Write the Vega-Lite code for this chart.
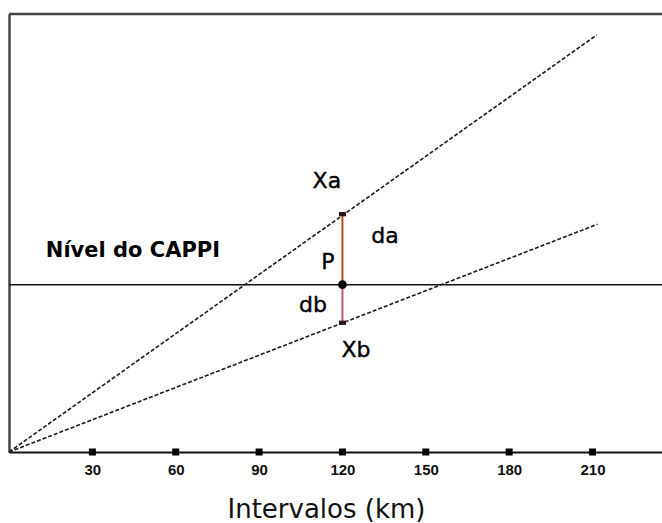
{
  "$schema": "https://vega.github.io/schema/vega-lite/v6.json",
  "width": 653,
  "height": 438,
  "autosize": {"type": "none"},
  "padding": {"left": 9, "top": 14, "right": 0, "bottom": 71},
  "background": "white",
  "config": {"view": {"stroke": null}},
  "datasets": {
    "lines": [
      {"series": "upper", "x": 0, "y": 0},
      {"series": "upper", "x": 211.5, "y": 9.52},
      {"series": "lower", "x": 0, "y": 0},
      {"series": "lower", "x": 211.8, "y": 5.2}
    ],
    "segs": [
      {"part": "da", "x": 120, "y": 5.43, "y2": 3.82},
      {"part": "db", "x": 120, "y": 3.82, "y2": 2.95}
    ],
    "ends": [
      {"name": "Xa", "x": 120, "y": 5.43},
      {"name": "Xb", "x": 120, "y": 2.95}
    ],
    "ticks": [
      {"x": 30, "y": 0}, {"x": 60, "y": 0}, {"x": 90, "y": 0}, {"x": 120, "y": 0},
      {"x": 150, "y": 0}, {"x": 180, "y": 0}, {"x": 210, "y": 0}
    ],
    "labels": [
      {"text": "Xa", "x": 114.4, "y": 6.19},
      {"text": "da", "x": 135.3, "y": 4.93},
      {"text": "P", "x": 114.8, "y": 4.34},
      {"text": "db", "x": 109.4, "y": 3.36},
      {"text": "Xb", "x": 124.9, "y": 2.33}
    ],
    "level": [
      {"text": "Nível do CAPPI", "x": 44.6, "y": 4.58, "cappi": 3.82}
    ]
  },
  "encoding": {
    "x": {
      "field": "x",
      "type": "quantitative",
      "scale": {"domain": [0, 235], "nice": false, "zero": false},
      "axis": {
        "values": [30, 60, 90, 120, 150, 180, 210],
        "grid": false,
        "ticks": false,
        "domain": true,
        "domainColor": "#111111",
        "domainWidth": 2,
        "labelFont": "Liberation Sans",
        "labelFontWeight": "bold",
        "labelFontSize": 15,
        "labelColor": "#111111",
        "labelPadding": 10,
        "title": "Intervalos (km)",
        "titleFont": "DejaVu Sans",
        "titleFontWeight": "normal",
        "titleFontSize": 26,
        "titleColor": "#111111",
        "titleBaseline": "alphabetic",
        "titleAlign": "center",
        "titleX": 317,
        "titleY": 65
      }
    },
    "y": {
      "field": "y",
      "type": "quantitative",
      "scale": {"domain": [0, 10], "nice": false, "zero": false},
      "axis": {
        "grid": false,
        "ticks": false,
        "labels": false,
        "title": null,
        "domain": true,
        "domainColor": "#444444",
        "domainWidth": 2.5
      }
    }
  },
  "layer": [
    {
      "data": {"name": "level"},
      "mark": {"type": "rule", "color": "#444444", "strokeWidth": 2.5},
      "encoding": {"y": {"datum": 10}, "x": null}
    },
    {
      "data": {"name": "level"},
      "mark": {"type": "rule", "color": "#111111", "strokeWidth": 1.6},
      "encoding": {"y": {"field": "cappi", "type": "quantitative"}, "x": null}
    },
    {
      "data": {"name": "lines"},
      "mark": {"type": "line", "color": "#1a1a1a", "strokeWidth": 1.6, "strokeDash": [4, 2]},
      "encoding": {"detail": {"field": "series"}}
    },
    {
      "data": {"name": "segs"},
      "mark": {"type": "rule", "strokeWidth": 2},
      "encoding": {
        "y2": {"field": "y2"},
        "color": {"field": "part", "type": "nominal", "scale": {"domain": ["da", "db"], "range": ["#b5501e", "#c0587f"]}, "legend": null}
      }
    },
    {
      "data": {"name": "ticks"},
      "mark": {"type": "point", "shape": "square", "filled": true, "color": "#000000", "size": 49, "opacity": 1}
    },
    {
      "data": {"name": "ends"},
      "mark": {"type": "point", "shape": "M-1,-0.6L1,-0.6L1,0.6L-1,0.6Z", "filled": true, "color": "#2a1010", "size": 50, "opacity": 1}
    },
    {
      "data": {"name": "level"},
      "mark": {"type": "point", "shape": "circle", "filled": true, "color": "#000000", "size": 75, "opacity": 1},
      "encoding": {"y": {"field": "cappi", "type": "quantitative"}, "x": {"datum": 120}}
    },
    {
      "data": {"name": "labels"},
      "mark": {"type": "text", "font": "DejaVu Sans", "fontSize": 22, "color": "#000000", "align": "center", "baseline": "middle", "stroke": "#000000", "strokeWidth": 0.4},
      "encoding": {"text": {"field": "text"}}
    },
    {
      "data": {"name": "level"},
      "mark": {"type": "text", "font": "DejaVu Sans", "fontWeight": "bold", "fontSize": 21, "color": "#000000", "align": "center", "baseline": "middle"},
      "encoding": {"text": {"field": "text"}}
    }
  ]
}
